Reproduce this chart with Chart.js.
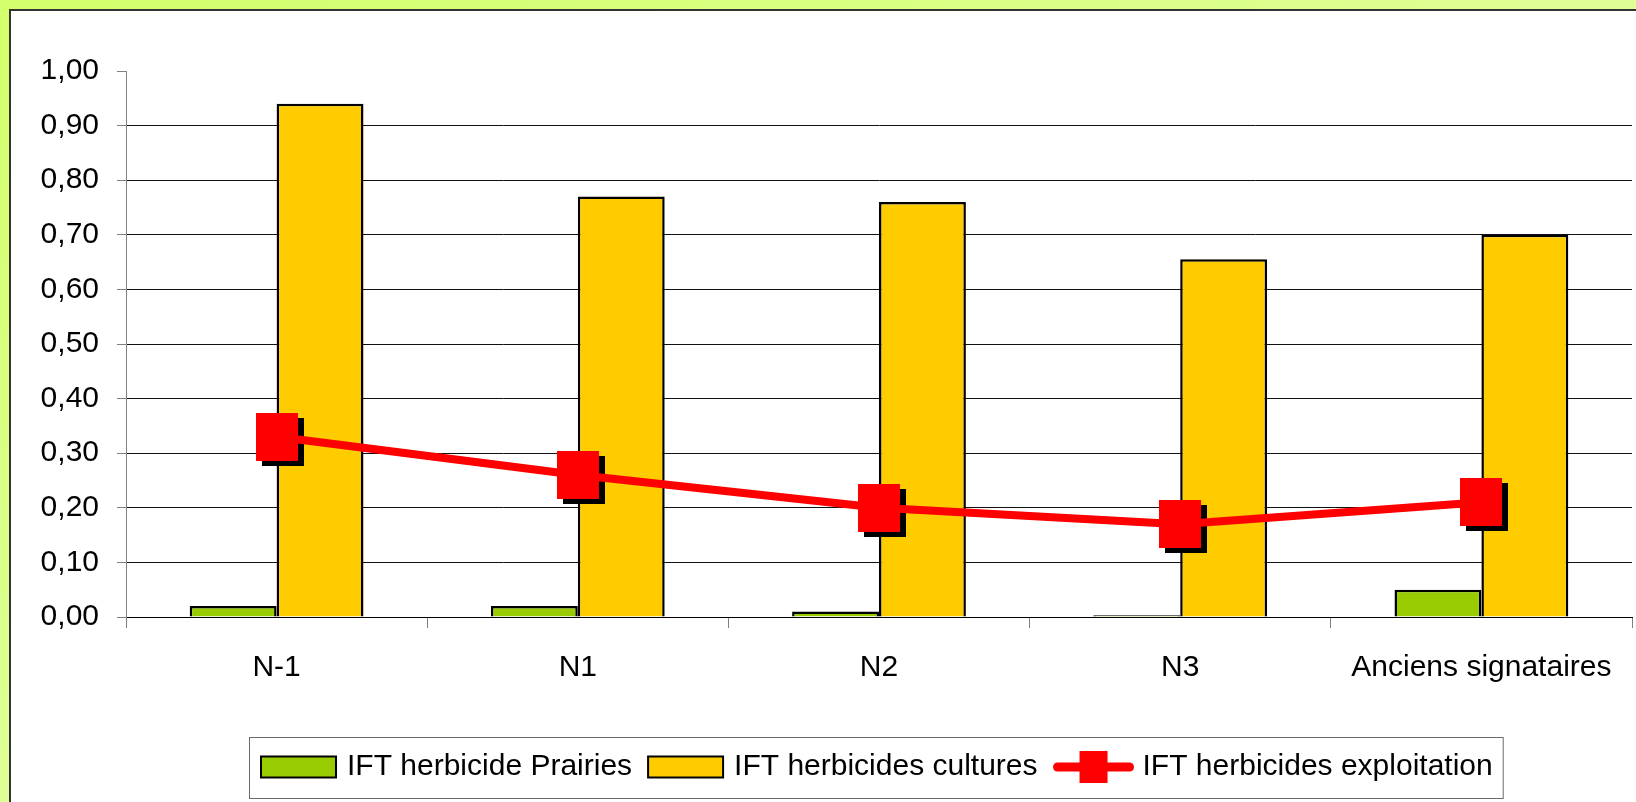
<!DOCTYPE html>
<html>
<head>
<meta charset="utf-8">
<script src="https://cdn.jsdelivr.net/npm/chart.js@4"></script>
<style>
  html, body { margin: 0; padding: 0; overflow: hidden; }
  body {
    width: 1636px; height: 802px; position: relative;
    background: linear-gradient(to bottom right, #d2ff6a, #ecffc2);
  }
  .panel {
    position: absolute; left: 9px; top: 9px; right: -40px; bottom: -40px;
    background: #fff; border-top: 2px solid #333; border-left: 2px solid #333;
  }
  canvas { position: absolute; left: 0; top: 0; }
</style>
</head>
<body>
<div class="panel"></div>
<canvas id="chart" width="1636" height="802"></canvas>
<script>
const categories = ['N-1', 'N1', 'N2', 'N3', 'Anciens signataires'];
const seriesLabels = ['IFT herbicide Prairies', 'IFT herbicides cultures', 'IFT herbicides exploitation'];
const prairies = [0.02, 0.02, 0.01, 0.003, 0.05];
const cultures = [0.94, 0.77, 0.76, 0.655, 0.70];
const exploitation = [0.33, 0.26, 0.20, 0.17, 0.21];
const yMin = 0, yMax = 1, yStep = 0.1;

const FONT = '"Liberation Sans", Arial, sans-serif';
const colors = { prairies: '#99cc00', cultures: '#ffcc00', line: '#ff0000' };

// square-ish marker images (Excel draws them slightly taller than wide)
function makeMarker(color, w, h) {
  const c = document.createElement('canvas');
  c.width = w; c.height = h;
  const g = c.getContext('2d');
  g.fillStyle = color;
  g.fillRect(0, 0, w, h);
  return c;
}
const redMarker = makeMarker(colors.line, 42, 48);
const shadowMarker = makeMarker('#000', 42, 48);

// the black marker copy is drawn a few pixels down-right, as a drop shadow
const shadowOffset = {
  id: 'shadowOffset',
  beforeDatasetDraw(chart, args) {
    if (args.index === 3) { chart.ctx.save(); chart.ctx.translate(6, 5); }
  },
  afterDatasetDraw(chart, args) {
    if (args.index === 3) chart.ctx.restore();
  }
};

const boxedLegend = {
  id: 'boxedLegend',
  afterDraw(chart) {
    const ctx = chart.ctx;
    const cy = 767;
    ctx.save();
    ctx.font = '30px ' + FONT;
    ctx.textBaseline = 'middle';
    ctx.textAlign = 'left';
    let x = 261;
    const start = 249;
    [0, 1].forEach(i => {
      const ds = chart.data.datasets[i];
      ctx.fillStyle = ds.backgroundColor;
      ctx.fillRect(x, cy - 10.5, 75, 21);
      ctx.strokeStyle = '#000';
      ctx.lineWidth = 2;
      ctx.strokeRect(x, cy - 10.5, 75, 21);
      ctx.fillStyle = '#000';
      const tx = x + 86;
      ctx.fillText(ds.label, tx, cy);
      x = tx + ctx.measureText(ds.label).width + 16;
    });
    const ld = chart.data.datasets[2];
    ctx.strokeStyle = ld.borderColor;
    ctx.lineWidth = 9;
    ctx.lineCap = 'round';
    ctx.beginPath();
    ctx.moveTo(x + 4, cy);
    ctx.lineTo(x + 76, cy);
    ctx.stroke();
    ctx.fillStyle = ld.borderColor;
    ctx.fillRect(x + 40 - 14, cy - 16, 28, 32);
    ctx.fillStyle = '#000';
    const tx = x + 89;
    ctx.fillText(ld.label, tx, cy);
    const end = tx + ctx.measureText(ld.label).width + 10;
    ctx.strokeStyle = '#6a6a6a';
    ctx.lineWidth = 1;
    ctx.strokeRect(start + 0.5, 737.5, end - start, 61);
    ctx.restore();
  }
};

new Chart(document.getElementById('chart'), {
  data: {
    labels: categories,
    datasets: [
      {
        type: 'bar', label: seriesLabels[0], data: prairies,
        backgroundColor: colors.prairies, borderColor: '#000', borderWidth: 2.5,
        categoryPercentage: 0.577, barPercentage: 1, order: 3
      },
      {
        type: 'bar', label: seriesLabels[1], data: cultures,
        backgroundColor: colors.cultures, borderColor: '#000', borderWidth: 2.5,
        categoryPercentage: 0.577, barPercentage: 1, order: 3
      },
      {
        type: 'line', label: seriesLabels[2], data: exploitation,
        borderColor: colors.line, backgroundColor: colors.line, borderWidth: 8,
        tension: 0, pointStyle: redMarker, pointRadius: 24, pointHoverRadius: 24,
        order: 1
      },
      {
        type: 'line', label: 'shadow', data: exploitation,
        showLine: false, pointStyle: shadowMarker, pointRadius: 24,
        pointHoverRadius: 24, order: 2
      }
    ]
  },
  options: {
    responsive: false,
    animation: false,
    layout: { autoPadding: false, padding: { top: 71, right: 4, left: 0, bottom: 0 } },
    plugins: { legend: { display: false }, tooltip: { enabled: false } },
    scales: {
      x: {
        grid: { offset: true, drawOnChartArea: false, tickLength: 11, tickColor: '#808080', lineWidth: 1 },
        border: { color: '#000', width: 1 },
        ticks: { color: '#000', font: { family: FONT, size: 30 }, padding: 22, maxRotation: 0, autoSkip: false },
        afterFit(scale) { scale.height = 185; scale.paddingLeft = 0; scale.paddingRight = 0; }
      },
      y: {
        min: yMin, max: yMax,
        grid: {
          color: ctx => (ctx.tick && ctx.tick.value >= yMax - 1e-9) ? 'rgba(0,0,0,0)' : '#111',
          tickColor: '#808080', tickLength: 9, lineWidth: 1
        },
        border: { color: '#808080', width: 1 },
        ticks: {
          stepSize: yStep, color: '#000', font: { family: FONT, size: 30 }, padding: 18,
          callback: v => v.toFixed(2).replace('.', ',')
        },
        afterFit(scale) { scale.width = 126; }
      }
    }
  },
  plugins: [shadowOffset, boxedLegend]
});
</script>
</body>
</html>
